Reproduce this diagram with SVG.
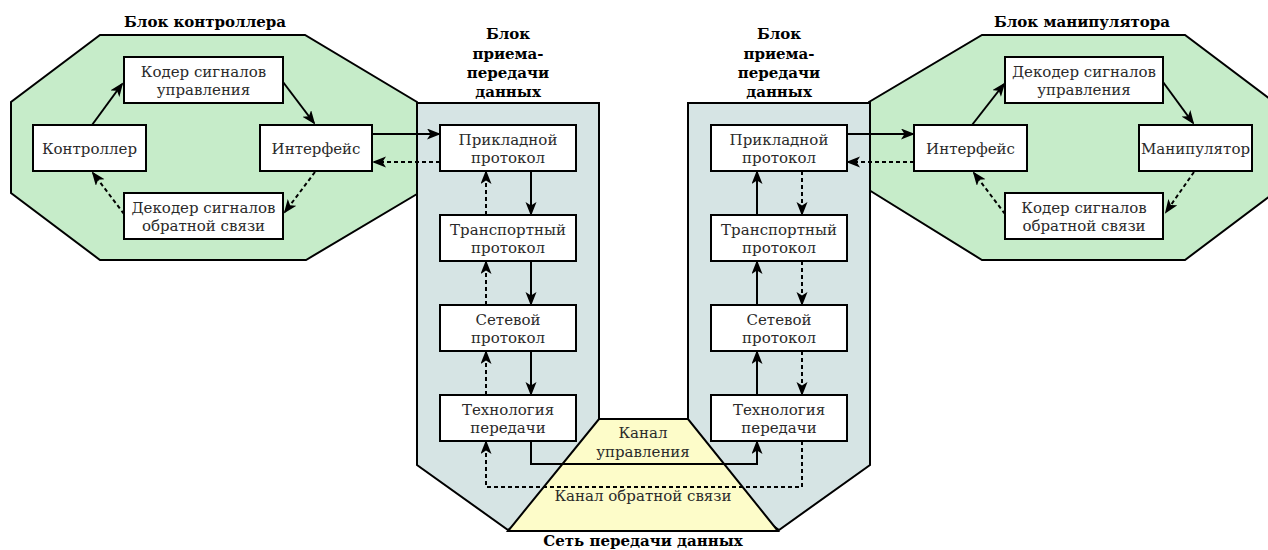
<svg xmlns="http://www.w3.org/2000/svg" width="1268" height="550" viewBox="0 0 1268 550">
<style>
.oct{fill:#c6ecc9;stroke:#000;stroke-width:2;stroke-linejoin:miter}
.blk{fill:#d6e4e4;stroke:#000;stroke-width:2}
.trap{fill:#fdfcc9;stroke:#000;stroke-width:2}
.box{fill:#fff;stroke:#000;stroke-width:2}
.t{font-family:"DejaVu Serif",serif;font-size:15px;fill:#2a2a2a;text-anchor:middle}
.h{font-family:"DejaVu Serif",serif;font-size:15px;font-weight:bold;fill:#000;text-anchor:middle}
.s{fill:none;stroke:#000;stroke-width:2;marker-end:url(#ah)}
.d{fill:none;stroke:#000;stroke-width:2;stroke-dasharray:4,3;marker-end:url(#ah)}
</style>
<defs>
<marker id="ah" markerUnits="userSpaceOnUse" markerWidth="15" markerHeight="12" viewBox="0 0 15 12" refX="12" refY="5.5" orient="auto">
<path d="M0,0 L14,5.5 L0,11 L3.5,5.5 z" fill="#000"/>
</marker>
</defs>

<g id="controller-block">
<polygon class="oct" points="100,35 305,35 417,102 417,194 306,260 100,260 11,193 11,102"/>
<text class="h" x="205" y="27">Блок контроллера</text>
</g>
<g id="manipulator-block">
<polygon class="oct" points="982,35 1185,35 1274,102 1274,193 1185,260 982,260 869,190 869,102"/>
<text class="h" x="1082" y="27">Блок манипулятора</text>
</g>
<g id="trx-left">
<polygon class="blk" points="417,103 599,103 599,465 508,530 417,465"/>
<text class="h" x="508"><tspan x="508" y="39">Блок</tspan><tspan x="508" y="58.5">приема-</tspan><tspan x="508" y="78">передачи</tspan><tspan x="508" y="97">данных</tspan></text>
</g>
<g id="trx-right">
<polygon class="blk" points="688,103 870,103 870,465 779,530 688,465"/>
<text class="h" x="779"><tspan x="779" y="39">Блок</tspan><tspan x="779" y="58.5">приема-</tspan><tspan x="779" y="78">передачи</tspan><tspan x="779" y="97">данных</tspan></text>
</g>
<g id="network">
<polygon class="trap" points="599,419 688,419 778,531 508,531"/>
<line x1="562" y1="464" x2="725" y2="464" stroke="#000" stroke-width="2"/>
<text class="t" x="643" y="438">Канал</text>
<text class="t" x="643" y="457">управления</text>
<text class="t" x="643" y="501">Канал обратной связи</text>
<text class="h" x="643" y="546">Сеть передачи данных</text>
</g>

<g id="controller"><rect class="box" x="33" y="125" width="113" height="46"/><text class="t" x="89.5" y="154">Контроллер</text></g>
<g id="encoder-ctrl"><rect class="box" x="124" y="57" width="159" height="46"/><text class="t" x="203.5" y="76.5">Кодер сигналов</text><text class="t" x="203.5" y="94.5">управления</text></g>
<g id="interface-left"><rect class="box" x="260" y="125" width="112" height="46"/><text class="t" x="316" y="154">Интерфейс</text></g>
<g id="decoder-fb"><rect class="box" x="124" y="193" width="159" height="46"/><text class="t" x="203.5" y="212.5">Декодер сигналов</text><text class="t" x="203.5" y="230.5">обратной связи</text></g>

<g id="app-left"><rect class="box" x="440" y="125" width="136" height="46"/><text class="t" x="508" y="144.5">Прикладной</text><text class="t" x="508" y="162.5">протокол</text></g>
<g id="transport-left"><rect class="box" x="440" y="215" width="136" height="46"/><text class="t" x="508" y="234.5">Транспортный</text><text class="t" x="508" y="252.5">протокол</text></g>
<g id="network-left"><rect class="box" x="440" y="305" width="136" height="46"/><text class="t" x="508" y="324.5">Сетевой</text><text class="t" x="508" y="342.5">протокол</text></g>
<g id="tech-left"><rect class="box" x="440" y="395" width="136" height="46"/><text class="t" x="508" y="414.5">Технология</text><text class="t" x="508" y="432.5">передачи</text></g>

<g id="app-right"><rect class="box" x="711" y="125" width="136" height="46"/><text class="t" x="779" y="144.5">Прикладной</text><text class="t" x="779" y="162.5">протокол</text></g>
<g id="transport-right"><rect class="box" x="711" y="215" width="136" height="46"/><text class="t" x="779" y="234.5">Транспортный</text><text class="t" x="779" y="252.5">протокол</text></g>
<g id="network-right"><rect class="box" x="711" y="305" width="136" height="46"/><text class="t" x="779" y="324.5">Сетевой</text><text class="t" x="779" y="342.5">протокол</text></g>
<g id="tech-right"><rect class="box" x="711" y="395" width="136" height="46"/><text class="t" x="779" y="414.5">Технология</text><text class="t" x="779" y="432.5">передачи</text></g>

<g id="interface-right"><rect class="box" x="914" y="125" width="113" height="46"/><text class="t" x="970.5" y="154">Интерфейс</text></g>
<g id="decoder-ctrl"><rect class="box" x="1005" y="57" width="158" height="46"/><text class="t" x="1084" y="76.5">Декодер сигналов</text><text class="t" x="1084" y="94.5">управления</text></g>
<g id="manipulator"><rect class="box" x="1139" y="125" width="113" height="46"/><text class="t" x="1195.5" y="154">Манипулятор</text></g>
<g id="encoder-fb"><rect class="box" x="1005" y="193" width="158" height="46"/><text class="t" x="1084" y="212.5">Кодер сигналов</text><text class="t" x="1084" y="230.5">обратной связи</text></g>

<g id="connectors">
<path class="s" d="M92,125 L122,84"/>
<path class="s" d="M283,82 L314,123"/>
<path class="d" d="M315,172 L285,212"/>
<path class="d" d="M124,214 L93,173"/>
<path class="s" d="M372,134 L439,134"/>
<path class="d" d="M440,162 L374,162"/>
<path class="s" d="M531,171 L531,214"/>
<path class="s" d="M531,261 L531,304"/>
<path class="s" d="M531,351 L531,394"/>
<path class="d" d="M486,215 L486,172"/>
<path class="d" d="M486,305 L486,262"/>
<path class="d" d="M486,395 L486,352"/>
<path class="s" d="M531,441 L531,464 L757,464 L757,442"/>
<path class="d" d="M802,441 L802,487 L486,487 L486,442"/>
<path class="s" d="M757,395 L757,352"/>
<path class="s" d="M757,305 L757,262"/>
<path class="s" d="M757,215 L757,172"/>
<path class="d" d="M802,171 L802,214"/>
<path class="d" d="M802,261 L802,304"/>
<path class="d" d="M802,351 L802,394"/>
<path class="s" d="M847,134 L913,134"/>
<path class="d" d="M914,162 L848,162"/>
<path class="s" d="M972,125 L1004,84"/>
<path class="s" d="M1163,82 L1193,123"/>
<path class="d" d="M1194,172 L1166,212"/>
<path class="d" d="M1005,214 L974,173"/>
</g>
</svg>
